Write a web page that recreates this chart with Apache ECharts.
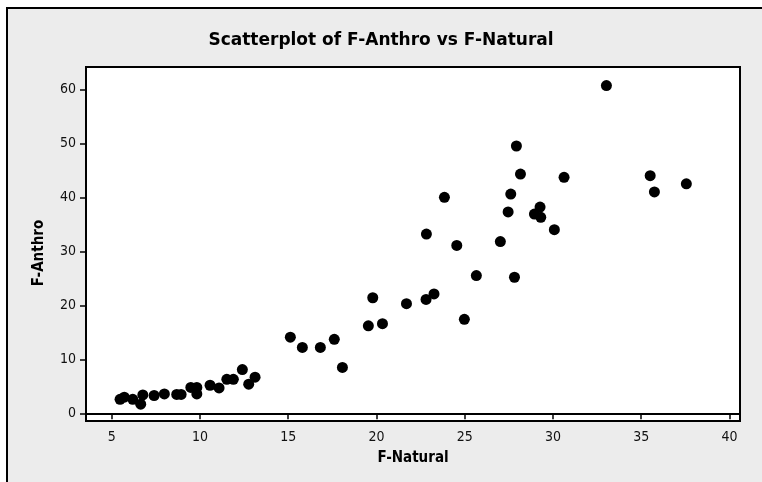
<!DOCTYPE html>
<html>
<head>
<meta charset="utf-8">
<script src="https://cdn.jsdelivr.net/npm/echarts@6/dist/echarts.min.js"></script>
<style>
  html, body { margin: 0; padding: 0; background: #fff; overflow: hidden; }
  #frame {
    position: absolute; left: 6px; top: 7px;
    width: 800px; height: 500px;
    background: #ececec; border: 2px solid #000;
  }
  #chart { position: absolute; left: 0; top: 0; width: 762px; height: 482px; }
</style>
</head>
<body>
<div id="frame"></div>
<div id="chart"></div>
<script>
// F-Natural (x) and F-Anthro (y)
const fNatural = [
  5.47, 5.71, 6.19, 6.64, 6.76, 7.40, 7.98, 8.68, 8.93, 9.48,
  9.82, 9.82, 10.57, 11.08, 11.52, 11.89, 12.40, 12.76, 13.12,
  15.12, 15.80, 16.82, 17.61, 18.07, 19.54, 19.79, 20.34, 21.70, 22.81,
  23.26, 22.83, 23.85, 24.55, 24.98, 25.66, 27.02, 27.46, 27.61, 27.82,
  33.03, 27.93, 28.16, 30.63, 35.51, 35.75, 37.56, 29.27, 28.95, 29.31, 30.08
];
const fAnthro = [
  2.6, 3.0, 2.6, 1.7, 3.4, 3.3, 3.6, 3.5, 3.5, 4.8,
  4.8, 3.6, 5.2, 4.7, 6.3, 6.3, 8.1, 5.4, 6.7,
  14.1, 12.2, 12.2, 13.7, 8.5, 16.2, 21.4, 16.6, 20.3, 21.1,
  22.1, 33.2, 40.0, 31.1, 17.4, 25.5, 31.8, 37.3, 40.6, 25.2,
  60.7, 49.5, 44.3, 43.7, 44.0, 41.0, 42.5, 38.2, 36.9, 36.3, 34.0
];
const xTicks = [5, 10, 15, 20, 25, 30, 35, 40];
const yTicks = [0, 10, 20, 30, 40, 50, 60];

const points = fNatural.map((x, i) => [x, fAnthro[i]]);

const chart = echarts.init(document.getElementById('chart'));

const tickFont = {
  color: '#111',
  fontFamily: 'DejaVu Sans Condensed',
  fontSize: 14
};

const option = {
  backgroundColor: 'transparent',
  animation: false,
  title: {
    text: 'Scatterplot of F-Anthro vs F-Natural',
    left: 'center',
    top: 32,
    padding: 0,
    textStyle: {
      color: '#000',
      fontFamily: 'DejaVu Sans',
      fontWeight: 'bold',
      fontSize: 17
    }
  },
  grid: {
    left: 86,
    top: 67,
    width: 654,
    height: 354,
    show: true,
    backgroundColor: '#fff',
    borderColor: '#000',
    borderWidth: 2
  },
  xAxis: {
    type: 'value',
    min: 3.54,
    max: 40.6,
    name: 'F-Natural',
    nameLocation: 'middle',
    nameGap: 30,
    nameTextStyle: {
      color: '#000',
      fontFamily: 'DejaVu Sans Condensed',
      fontWeight: 'bold',
      fontSize: 15
    },
    axisLine: { show: true, lineStyle: { color: '#000', width: 2 } },
    axisTick: {
      show: true,
      length: 6,
      customValues: xTicks,
      lineStyle: { color: '#000', width: 1.5 }
    },
    axisLabel: Object.assign({ customValues: xTicks, margin: 9 }, tickFont),
    splitLine: { show: false }
  },
  yAxis: {
    type: 'value',
    min: -1.42,
    max: 64.13,
    name: 'F-Anthro',
    nameLocation: 'middle',
    nameGap: 39,
    nameRotate: 90,
    nameTextStyle: {
      color: '#000',
      fontFamily: 'DejaVu Sans Condensed',
      fontWeight: 'bold',
      fontSize: 15,
      padding: [0, 18, 0, 0]
    },
    axisLine: { show: true, lineStyle: { color: '#000', width: 2 } },
    axisTick: {
      show: true,
      length: 6,
      customValues: yTicks,
      lineStyle: { color: '#000', width: 1.5 }
    },
    axisLabel: Object.assign({ customValues: yTicks, margin: 10 }, tickFont),
    splitLine: { show: false }
  },
  series: [
    {
      type: 'scatter',
      symbol: 'circle',
      symbolSize: 11,
      itemStyle: { color: '#000', opacity: 1 },
      data: points
    }
  ]
};

chart.setOption(option);
</script>
</body>
</html>
